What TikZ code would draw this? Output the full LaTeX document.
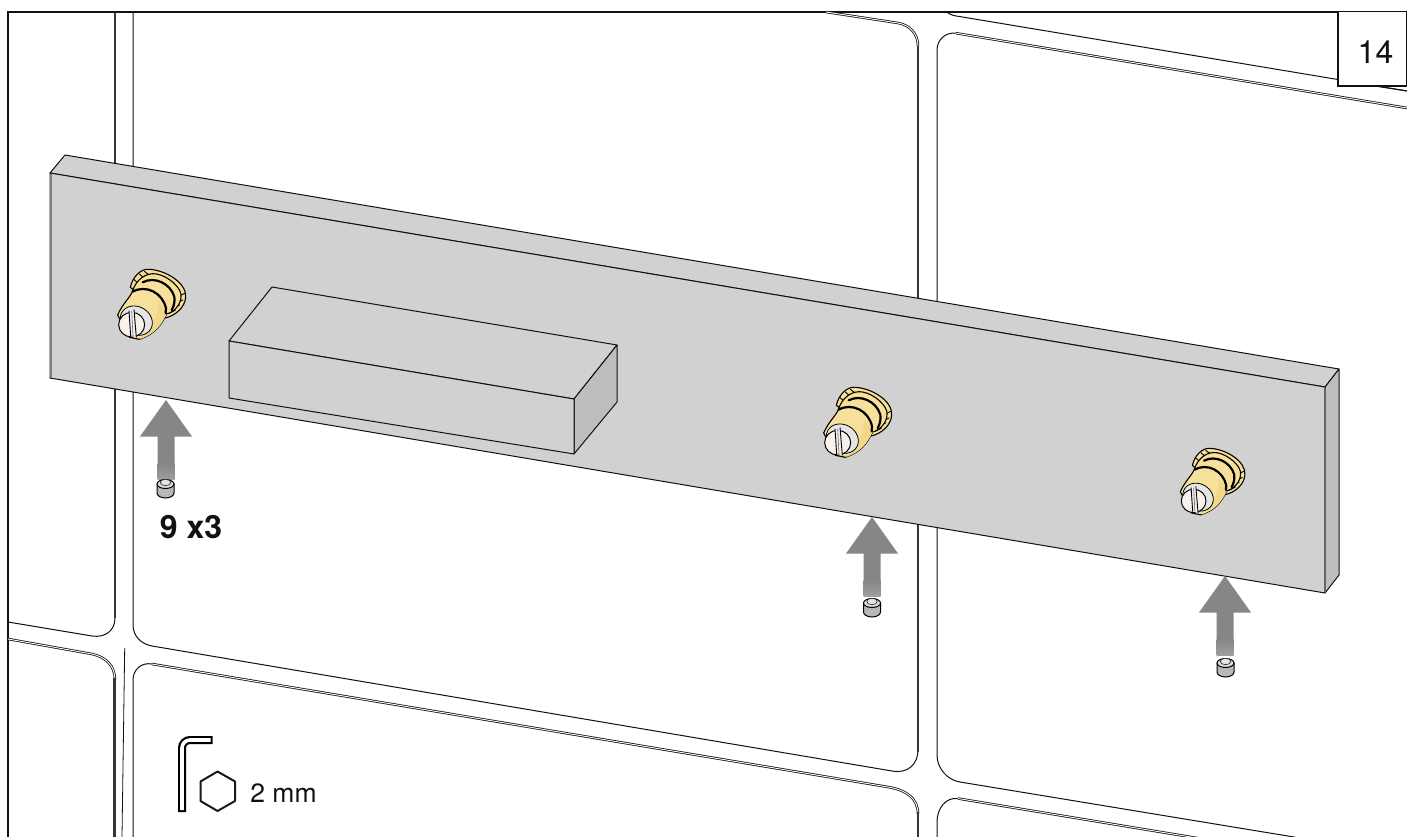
\documentclass[tikz,border=0pt]{standalone}
\usepackage{fontspec}
\setmainfont{TeX Gyre Heros}
\definecolor{plate}{HTML}{D1D1D1}
\definecolor{plateside}{HTML}{BEBEBE}
\definecolor{arrowgrey}{HTML}{868686}
\definecolor{brass}{HTML}{F7E09A}
\definecolor{brassdark}{HTML}{F2D689}
\definecolor{steel}{HTML}{F9F1EA}
\definecolor{inkline}{HTML}{111111}
\tikzset{
  frameline/.style={draw=inkline,line width=1.1pt},
  tileline/.style={draw=inkline,line width=1pt},
  tiledouble/.style={draw=inkline,line width=.8pt,double=white,double distance=.9pt},
  tilethick/.style={draw=inkline!85!white,line width=2.3pt},
  platebody/.style={fill=plate,draw=inkline,line width=1pt,line join=round},
  plateend/.style={fill=plateside,draw=inkline,line width=1pt,line join=round},
  labeltext/.style={inner sep=0pt,text=inkline},
  pusharrow/.style={fill=arrowgrey,draw=none},
  brassfill/.style={fill=brass,draw=black,line width=1.1pt,line join=round},
  brassband/.style={draw=black,line width=2.2pt,line cap=round},
  hatch/.style={draw=black,line width=.9pt,line cap=round}
}
\newcommand{\boltpic}[3]{%
\begin{scope}[shift={(#1,#2)},x=#3*.3333pt,y=#3*-.3333pt]
  \path[brassfill] (118,112) .. controls (125,80) and (150,55) .. (175,58)
     .. controls (222,60) and (288,98) .. (284,142)
     .. controls (282,172) and (252,198) .. (222,204) -- (170,150) -- cycle;
  \draw[hatch] (160,64) -- (178,78) (145,72) -- (160,85) (128,88) -- (142,100)
     (281,130) -- (262,140) (276,150) -- (255,160) (266,165) -- (245,175) (254,180) -- (235,190);
  \path[brassfill] (80,195) .. controls (95,160) and (120,140) .. (125,122)
     .. controls (135,90) and (165,66) .. (197,72)
     .. controls (232,78) and (274,115) .. (270,140)
     .. controls (270,165) and (247,187) .. (227,192)
     .. controls (210,227) and (192,252) .. (145,268) -- (115,262) -- cycle;
  \fill[brassdark] (227,192) .. controls (210,227) and (192,252) .. (145,268)
     .. controls (175,245) and (202,205) .. (202,155) .. controls (214,165) and (222,178) .. (227,192) -- cycle;
  \draw[brassband] (155,97) .. controls (190,78) and (238,100) .. (250,140) .. controls (252,155) and (249,168) .. (242,180);
  \draw[brassband] (125,125) .. controls (165,103) and (215,128) .. (225,175) -- (224,190);
  \filldraw[fill=black!10,draw=black,line width=.8pt,rotate around={-30:(136,212)}] (136,212) ellipse [x radius=50,y radius=42];
  \filldraw[fill=steel,draw=black,line width=1pt] (122,224) ellipse [x radius=39,y radius=37];
  \fill[black!6] (114,182) -- (129,178) -- (136,262) -- (119,258) -- cycle;
  \draw[draw=black,line width=.9pt] (114,182) -- (119,258) (129,178) -- (136,262);
  \draw[draw=black!60,line width=.6pt] (122,182) -- (126,258);
\end{scope}}
\newcommand{\grubpic}[2]{%
\begin{scope}[shift={(#1,#2)}]
  \filldraw[fill=black!28,draw=black,line width=1pt] (-8.5,0) -- (-8.5,9) arc [start angle=180,end angle=0,x radius=8.5,y radius=5] -- (8.5,0) -- cycle;
  \filldraw[fill=black!14,draw=black,line width=1pt] (0,0) ellipse [x radius=8.5,y radius=4.5];
  \filldraw[fill=black!10,draw=black!80,line width=.7pt] (0,-1.5) ellipse [x radius=5.2,y radius=3.2];
\end{scope}}
\newcommand{\pushpic}[2]{%
\begin{scope}[shift={(#1,#2)}]
  \path[pusharrow] (0,0) -- (26,36.5) -- (8.5,36.5) -- (8.5,64) -- (-8.5,64) -- (-8.5,36.5) -- (-26,36.5) -- cycle;
  \shade[top color=arrowgrey,bottom color=black!38] (-8.5,63.8) rectangle (8.5,79);
\end{scope}}
\begin{document}
\begin{tikzpicture}[x=1pt,y=-1pt]
\clip (0,0) rectangle (1407,837);
\fill[white] (0,0) rectangle (1407,837);

% frame
\draw[frameline] (1407,12) -- (8,12) -- (8,837);

% left column of joints
\draw[tileline] (8,622) -- (92,636) .. controls (106,638) and (115,630) .. (115,618);
\draw[tilethick] (115,618) -- (115,12);
\draw[tiledouble] (8,639) -- (92,654) .. controls (106,657) and (115,666) .. (115,680);
\draw[tilethick] (114.5,678) -- (114.5,837);
\draw[tileline,line width=.8pt] (124.7,648) -- (122,837);

% middle tile
\draw[tileline] (133,12) -- (133,625) .. controls (133,636) and (141,644) .. (152,646)
  -- (892,771) .. controls (908,774) and (918,764) .. (918,750);
\draw[tilethick] (918,752) -- (918,42);
\draw[tiledouble] (826,12) -- (898,23) .. controls (910,25) and (918,34) .. (918,46);
\draw[tileline] (133,837) -- (133,680) .. controls (133,670) and (141,662) .. (152,664);
\draw[tiledouble] (152,664) -- (888,787) .. controls (906,790) and (918,798) .. (918,814);
\draw[tilethick] (918,812) -- (918,837);

% right tile
\draw[tileline] (937,837) -- (937,822) .. controls (937,808) and (946,797) .. (958,798.5);
\draw[tiledouble] (958,798.5) -- (1215,841);
\draw[tileline] (937,50) .. controls (937,40) and (945,32) .. (956,33.2);
\draw[tiledouble] (956,33.2) -- (1407,108);
\draw[tileline] (937,50) -- (937,755) .. controls (937,768) and (947,780) .. (960,782) -- (1300,838);
\draw[tileline] (947,12) .. controls (950,15) and (955,16) .. (960,16.6) -- (1407,91);

% page number box
\path[fill=white,draw=inkline,line width=1.1pt] (1338,12) -- (1338,86) -- (1407,86) -- (1407,12);
\draw[tileline] (1375,86) -- (1407,91);
\node[labeltext,font=\fontsize{32}{32}\selectfont] (pagenum) at (1375.5,52) {14};

% plate
\path[platebody] (50,173) -- (65,155) -- (1339,369) -- (1325,387) -- cycle;
\path[plateend] (1325,387) -- (1339,369) -- (1339,575) -- (1325,593) -- cycle;
\path[platebody] (50,173) -- (1325,387) -- (1325,593) -- (50,378) -- cycle;
\draw[draw=black!50,line width=1.5pt] (51,174) -- (51,377);
\draw[draw=black!60,line width=1.5pt] (1325,388) -- (1325,592);

% block on plate
\path[platebody] (229,341) -- (272,287) -- (617,345) -- (574,399) -- cycle;
\path[plateend] (574,399) -- (617,345) -- (617,402) -- (574,454) -- cycle;
\path[platebody] (229,341) -- (574,399) -- (574,454) -- (229,398) -- cycle;

% bolts
\boltpic{91}{250}{1}
\boltpic{797}{368}{1}
\boltpic{1155}{430}{.95}

% arrows and grub screws
\pushpic{166}{400}
\grubpic{165.5}{484}
\pushpic{872}{517}
\grubpic{872}{603}
\pushpic{1225}{576}
\grubpic{1225.5}{663}
\node[labeltext,font=\fontsize{32}{32}\selectfont\bfseries] (count) at (191,527) {9 x3};

% hex key
\draw[draw=black,line width=8pt] (182,812) -- (182,748) arc [start angle=180,end angle=270,radius=8] -- (212.7,740);
\draw[draw=white,line width=3.6pt] (182,810) -- (182,748) arc [start angle=180,end angle=270,radius=8] -- (210.7,740);
\draw[draw=black!90,line width=2pt,line join=round] (217.5,771.5) -- (235,781.5) -- (235,801) -- (217.5,811) -- (200.5,801) -- (200.5,781.5) -- cycle;
\node[labeltext,font=\fontsize{26.5}{26.5}\selectfont] (keysize) at (283.5,793.5) {2 mm};
\end{tikzpicture}
\end{document}
